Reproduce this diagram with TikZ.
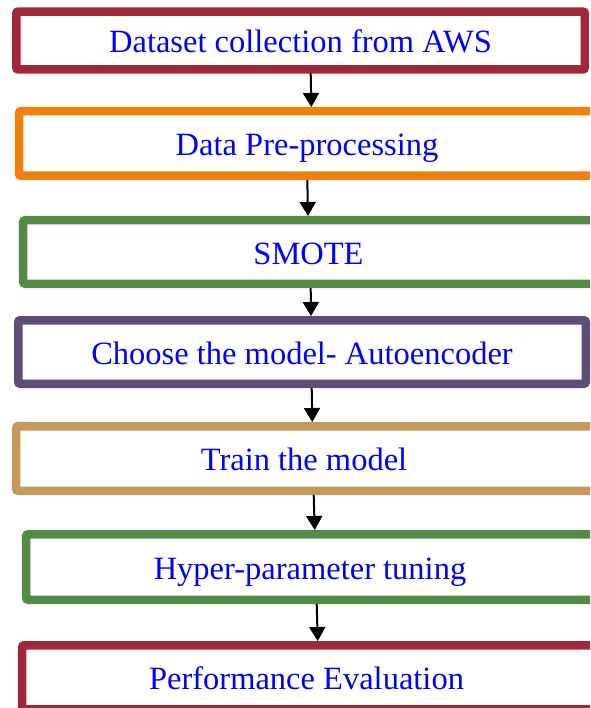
\documentclass[tikz,border=0pt]{standalone}
\usepackage{fontspec}
\setmainfont{Liberation Serif}
\usetikzlibrary{arrows.meta,calc}

\definecolor{boxred}{RGB}{160,40,58}
\definecolor{boxorange}{RGB}{240,128,10}
\definecolor{boxgreen}{RGB}{83,139,68}
\definecolor{boxpurple}{RGB}{96,76,120}
\definecolor{boxtan}{RGB}{196,153,92}
\definecolor{labelblue}{RGB}{0,0,255}

\tikzset{
  stagebox/.style={draw, line width=8.5pt, rounded corners=2pt, fill=white,
    text=labelblue, inner sep=0pt, outer sep=0pt,
    text height=24pt, text depth=0pt,
    font=\fontsize{32.5}{38}\selectfont},
  flow/.style={draw=black, line width=2pt,
    -{Triangle[length=14pt,width=16pt]}}
}
% trailing space that moves a label left of its frame's centre
\newcommand{\padR}[1]{\hspace*{#1}}

\begin{document}
\begin{tikzpicture}[x=1pt,y=-1pt]
  \useasboundingbox (0,0) rectangle (590,708);
  \clip (0,0) rectangle (590,708);

  % process stages, top to bottom
  \node[stagebox, draw=boxred,    minimum width=568.5pt,  minimum height=57.8pt] (b1) at (300.5,40.5) {Dataset collection from AWS};
  \node[stagebox, draw=boxorange, minimum width=591pt,    minimum height=64.5pt] (b2) at (314.5,143.5) {Data Pre-processing\padR{15pt}};
  \node[stagebox, draw=boxgreen,  minimum width=572.75pt, minimum height=63.5pt] (b3) at (309.6,252)   {SMOTE\padR{2.2pt}};
  \node[stagebox, draw=boxpurple, minimum width=567.5pt,  minimum height=63.5pt] (b4) at (302,352)     {Choose the model- Autoencoder};
  \node[stagebox, draw=boxtan,    minimum width=583.75pt, minimum height=64.5pt] (b5) at (308.1,458.5) {Train the model\padR{8.2pt}};
  \node[stagebox, draw=boxgreen,  minimum width=578.75pt, minimum height=65.5pt] (b6) at (315.6,567)   {Hyper-parameter tuning\padR{11.2pt}};
  \node[stagebox, draw=boxred,    minimum width=582.75pt, minimum height=64pt]   (b7) at (313.6,677.3) {Performance Evaluation\padR{14.2pt}};

  % connectors between consecutive stages
  \draw[flow] ($(b1.south)+(10.2,3.65)$) -- ($(b2.north)+(-3.2,-4.25)$);
  \draw[flow] ($(b2.south)+(-7.2,4.25)$) -- ($(b3.north)+(-1.6,-4.25)$);
  \draw[flow] ($(b3.south)+(1.1,4.25)$)  -- ($(b4.north)+(9,-4.25)$);
  \draw[flow] ($(b4.south)+(9.7,4.25)$)  -- ($(b5.north)+(4.2,-4.25)$);
  \draw[flow] ($(b5.south)+(5.6,4.25)$)  -- ($(b6.north)+(-0.9,-4.25)$);
  \draw[flow] ($(b6.south)+(1.1,4.25)$)  -- ($(b7.north)+(4.1,-4.25)$);
\end{tikzpicture}
\end{document}
